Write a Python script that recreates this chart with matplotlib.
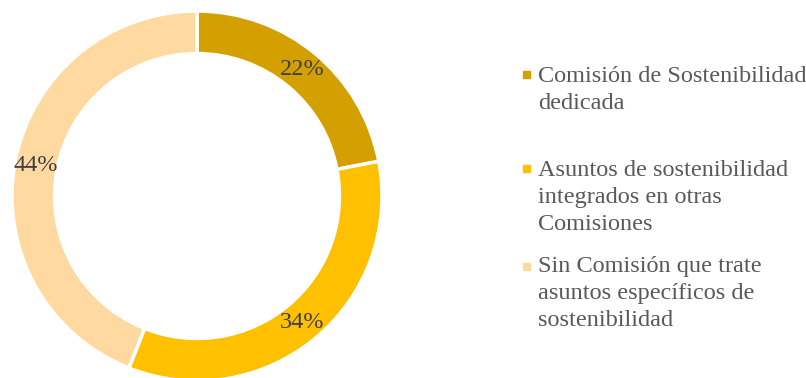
import matplotlib
matplotlib.use("Agg")
import matplotlib.pyplot as plt
import numpy as np

plt.rcParams['font.family'] = ['Liberation Serif', 'DejaVu Serif']

labels = ["Comisión de Sostenibilidad\ndedicada",
          "Asuntos de sostenibilidad\nintegrados en otras\nComisiones",
          "Sin Comisión que trate\nasuntos específicos de\nsostenibilidad"]
values = [22, 34, 44]
colors = ["#D4A000", "#FFC000", "#FFD9A0"]

fig = plt.figure(figsize=(8.06, 3.78), dpi=100)
ax = fig.add_axes([12/806, -3/378, 370/806, 370/378])

wedges, _ = ax.pie(values, colors=colors, startangle=90, counterclock=False,
                   radius=1.0, wedgeprops=dict(width=0.23, edgecolor="white", linewidth=2.5))

# percentage labels near the outer part of the ring
cum = np.cumsum([0] + values[:-1])
for start, v in zip(cum, values):
    ang = np.deg2rad(90 - (start + v / 2) * 3.6)
    r = 0.89
    ax.text(r * np.cos(ang), r * np.sin(ang), f"{v}%", ha="center", va="center",
            fontsize=17.5, color="#404040")

ax.set_xlim(-1, 1)
ax.set_ylim(-1, 1)
ax.set_aspect("equal")
ax.axis("off")

# legend on the right, marker next to the first line of each entry
marker_y = [74, 169, 266]
first_baseline = [82, 176, 272]
line_step = 27
for lab, col, my, by in zip(labels, colors, marker_y, first_baseline):
    fig.patches.append(plt.Rectangle((523/806, 1 - (my + 3.5)/378), 7/806, 7/378,
                                     transform=fig.transFigure, color=col, figure=fig))
    for i, line in enumerate(lab.split("\n")):
        fig.text(538/806, 1 - (by + i * line_step)/378, line, ha="left", va="baseline",
                 fontsize=17.5, color="#595959")

fig.savefig("out.png", dpi=100)
